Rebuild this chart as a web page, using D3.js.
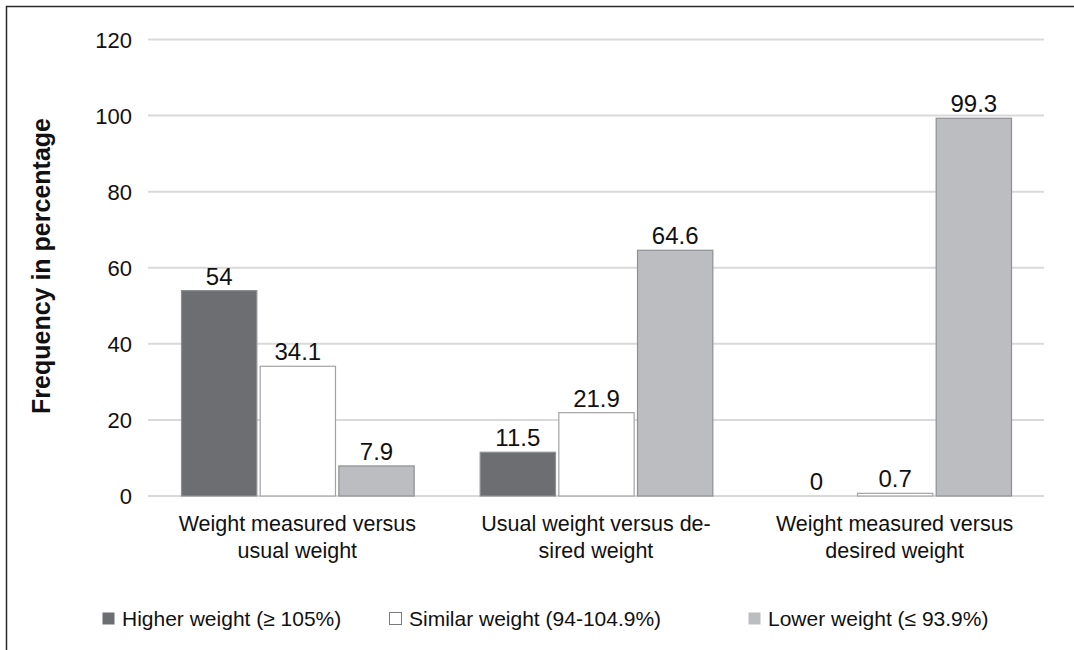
<!DOCTYPE html>
<html>
<head>
<meta charset="utf-8">
<script src="https://cdn.jsdelivr.net/npm/d3@7"></script>
<style>
  html, body { margin: 0; padding: 0; background: #fff; }
  svg { display: block; font-family: "Liberation Sans", Arial, sans-serif; }
</style>
</head>
<body>
<svg id="chart" width="1074" height="650"></svg>
<script>
const categories = [
  ["Weight measured versus", "usual weight"],
  ["Usual weight versus de-", "sired weight"],
  ["Weight measured versus", "desired weight"]
];
const seriesNames = ["Higher weight (\u2265 105%)", "Similar weight (94-104.9%)", "Lower weight (\u2264 93.9%)"];
const higher = [54, 11.5, 0];
const similar = [34.1, 21.9, 0.7];
const lower = [7.9, 64.6, 99.3];
const yTicks = [0, 20, 40, 60, 80, 100, 120];
const yTitle = "Frequency in percentage";

const seriesValues = [higher, similar, lower];
const fills = ["#6d6e71", "#ffffff", "#bcbdc0"];
const strokes = ["#8f9093", "#a3a3a3", "#8f9093"];

const svg = d3.select("#chart");

// frame lines
svg.append("line").attr("x1", 6.5).attr("x2", 6.5).attr("y1", 6).attr("y2", 650)
  .attr("stroke", "#2b2b2b").attr("stroke-width", 1.5);
svg.append("line").attr("x1", 6).attr("x2", 1074).attr("y1", 6.5).attr("y2", 6.5)
  .attr("stroke", "#2b2b2b").attr("stroke-width", 1.5);

const x0 = d3.scaleBand().domain(d3.range(categories.length)).range([148, 1044]).padding(0);
const x1 = d3.scaleBand().domain(d3.range(seriesNames.length))
  .range([33, x0.bandwidth() - 32]).paddingInner(0.03).paddingOuter(0);
const y = d3.scaleLinear().domain([0, 120]).range([496, 39.5]);

// tick labels
const yAxis = d3.axisLeft(y).tickValues(yTicks).tickSize(0).tickPadding(16).tickFormat(d3.format("d"));
const gAxis = svg.append("g").attr("transform", "translate(148,0)").call(yAxis);
gAxis.select(".domain").remove();
gAxis.selectAll("text").attr("font-size", 22).attr("fill", "#111")
  .attr("font-family", "'Liberation Sans', Arial, sans-serif").attr("dy", "0.36em");

// gridlines
svg.append("g").selectAll("line").data(yTicks).join("line")
  .attr("x1", 148).attr("x2", 1044)
  .attr("y1", d => y(d)).attr("y2", d => y(d))
  .attr("stroke", "#d9d9d9").attr("stroke-width", 2);

// bars
const groups = svg.append("g").selectAll("g").data(categories).join("g")
  .attr("transform", (d, i) => `translate(${x0(i)},0)`);

groups.each(function (cat, ci) {
  const g = d3.select(this);
  seriesValues.forEach((vals, si) => {
    const v = vals[ci];
    if (v > 0) {
      g.append("rect")
        .attr("x", x1(si) + 0.5)
        .attr("y", y(v))
        .attr("width", x1.bandwidth() - 1)
        .attr("height", y(0) - y(v))
        .attr("fill", fills[si])
        .attr("stroke", strokes[si])
        .attr("stroke-width", 1.2);
    }
    g.append("text")
      .attr("x", x1(si) + x1.bandwidth() / 2)
      .attr("y", y(v) - 6)
      .attr("text-anchor", "middle")
      .attr("font-size", 24)
      .attr("fill", "#111")
      .text(String(v));
  });
  // category labels
  const t = g.append("text")
    .attr("x", x0.bandwidth() / 2)
    .attr("y", 531)
    .attr("text-anchor", "middle")
    .attr("font-size", 21.5)
    .attr("fill", "#111");
  cat.forEach((line, li) => {
    t.append("tspan").attr("x", x0.bandwidth() / 2).attr("dy", li === 0 ? 0 : 27).text(line);
  });
});

// y title
svg.append("text")
  .attr("transform", "translate(50,266) rotate(-90)")
  .attr("text-anchor", "middle")
  .attr("font-size", 25)
  .attr("font-weight", "bold")
  .attr("fill", "#111")
  .text(yTitle);

// legend
const legendX = [102, 389, 748];
const lg = svg.append("g").selectAll("g").data(seriesNames).join("g")
  .attr("transform", (d, i) => `translate(${legendX[i]},612)`);
lg.append("rect").attr("x", 0.5).attr("y", 0.5).attr("width", 12).attr("height", 12)
  .attr("fill", (d, i) => fills[i]).attr("stroke", (d, i) => i === 1 ? "#7a7a7a" : "none");
lg.append("text").attr("x", 20).attr("y", 13.5).attr("font-size", 21).attr("fill", "#111").text(d => d);
</script>
</body>
</html>
